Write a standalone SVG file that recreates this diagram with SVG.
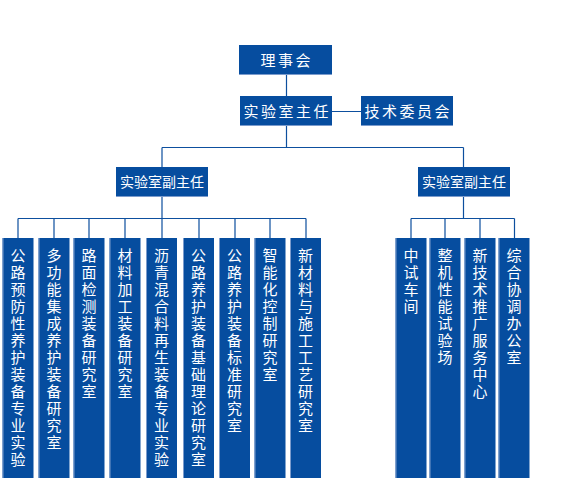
<svg xmlns="http://www.w3.org/2000/svg" width="571" height="492" viewBox="0 0 571 492">
<style>
.box{fill:#064d9f}
.edge{stroke:#7b9bcc;stroke-width:1;fill:none}
.t{font-family:"Noto Sans CJK SC","Noto Sans",sans-serif;fill:#ffffff;font-size:15px;text-anchor:middle}
.sp{letter-spacing:2.5px}
.d{font-size:14px}
.v{font-family:"Noto Sans CJK SC","Noto Sans",sans-serif;fill:#ffffff;font-size:15px;writing-mode:vertical-rl;text-orientation:upright;letter-spacing:2px}
.conn{stroke:#0d4f9e;stroke-width:1.2;fill:none}
</style>
<rect width="571" height="492" fill="#ffffff"/>
<g id="connectors" class="conn">
<path d="M286.5 75V96M286.5 126V147.5M332 111.5H361M162 147.5H463.5M162 147.5V167M463.5 147.5V167"/>
<path d="M162 197V218.5M18 218.5H306M18 218.5V238M54 218.5V238M89 218.5V238M125 218.5V238M162 218.5V238M199 218.5V238M235 218.5V238M270 218.5V238M306 218.5V238"/>
<path d="M463.5 197V218.5M411 218.5H514.5M411 218.5V238M445 218.5V238M480 218.5V238M514.5 218.5V238"/>
</g>
<g id="n-lishihui"><rect class="box" x="239" y="45" width="93" height="30"/><path class="edge" d="M239 74.5H332"/><text class="t sp" x="286.75" y="65.5">理事会</text></g>
<g id="n-zhuren"><rect class="box" x="240" y="96" width="92" height="30"/><path class="edge" d="M240 125.5H332"/><text class="t sp" x="287.25" y="116.5">实验室主任</text></g>
<g id="n-jiwei"><rect class="box" x="361" y="96" width="92" height="30"/><path class="edge" d="M361 125.5H453"/><text class="t sp" x="408.25" y="116.5">技术委员会</text></g>
<g id="n-fu1"><rect class="box" x="116" y="167" width="92" height="30"/><path class="edge" d="M116 196.5H208"/><text class="t d" x="162" y="187">实验室副主任</text></g>
<g id="n-fu2"><rect class="box" x="418" y="167" width="92" height="30"/><path class="edge" d="M418 196.5H510"/><text class="t d" x="464" y="187">实验室副主任</text></g>

<g id="c1"><rect class="box" x="2.5" y="238" width="31" height="240"/><path class="edge" d="M3 238V478"/><text class="v" x="18" y="247.5">公路预防性养护装备专业实验</text></g>
<g id="c2"><rect class="box" x="38.5" y="238" width="31" height="240"/><path class="edge" d="M39 238V478"/><text class="v" x="54" y="247.5">多功能集成养护装备研究室</text></g>
<g id="c3"><rect class="box" x="73.5" y="238" width="31" height="240"/><path class="edge" d="M74 238V478"/><text class="v" x="89" y="247.5">路面检测装备研究室</text></g>
<g id="c4"><rect class="box" x="109.5" y="238" width="31" height="240"/><path class="edge" d="M110 238V478"/><text class="v" x="125" y="247.5">材料加工装备研究室</text></g>
<g id="c5"><rect class="box" x="146" y="238" width="31" height="240"/><path class="edge" d="M146.5 238V478"/><text class="v" x="161.5" y="247.5">沥青混合料再生装备专业实验</text></g>
<g id="c6"><rect class="box" x="183" y="238" width="31" height="240"/><path class="edge" d="M183.5 238V478"/><text class="v" x="198.5" y="247.5">公路养护装备基础理论研究室</text></g>
<g id="c7"><rect class="box" x="219" y="238" width="31" height="240"/><path class="edge" d="M219.5 238V478"/><text class="v" x="234.5" y="247.5">公路养护装备标准研究室</text></g>
<g id="c8"><rect class="box" x="254.5" y="238" width="31" height="240"/><path class="edge" d="M255 238V478"/><text class="v" x="270" y="247.5">智能化控制研究室</text></g>
<g id="c9"><rect class="box" x="290" y="238" width="31" height="240"/><path class="edge" d="M290.5 238V478"/><text class="v" x="305.5" y="247.5">新材料与施工工艺研究室</text></g>

<g id="r1"><rect class="box" x="395.5" y="238" width="31" height="240"/><path class="edge" d="M396 238V478"/><text class="v" x="411" y="247.5">中试车间</text></g>
<g id="r2"><rect class="box" x="429.5" y="238" width="31" height="240"/><path class="edge" d="M430 238V478"/><text class="v" x="445" y="247.5">整机性能试验场</text></g>
<g id="r3"><rect class="box" x="464.5" y="238" width="31" height="240"/><path class="edge" d="M465 238V478"/><text class="v" x="480" y="247.5">新技术推广服务中心</text></g>
<g id="r4"><rect class="box" x="498.5" y="238" width="31" height="240"/><path class="edge" d="M499 238V478"/><text class="v" x="514" y="247.5">综合协调办公室</text></g>
</svg>
